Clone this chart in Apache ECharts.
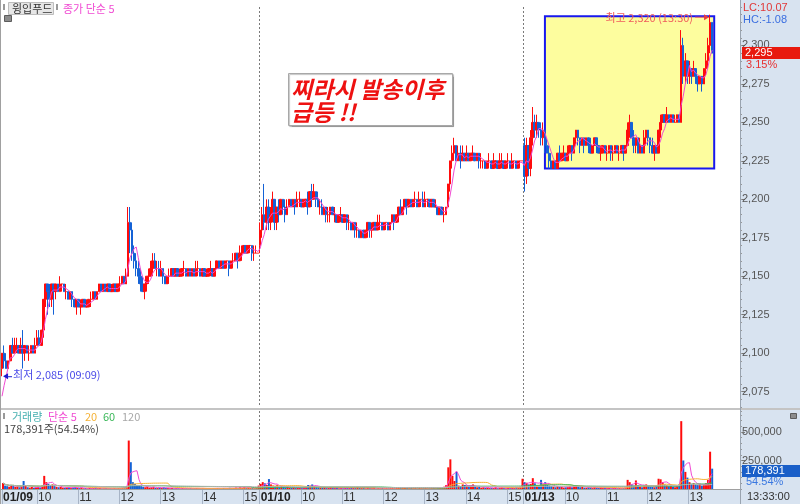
<!DOCTYPE html>
<html><head><meta charset="utf-8">
<script src="https://cdn.jsdelivr.net/npm/echarts@6.0.0/dist/echarts.min.js"></script>
<style>html,body{margin:0;padding:0;background:#fff}#c{width:800px;height:504px}</style>
</head><body><div id="c"></div>
<script>
// ---------------- DATA ----------------
const stockName = '윙입푸드';
const dayLabels = ['01/09', '01/10', '01/13'];
const dayFirstTime = ['09:09', '09:00', '09:00'];
const dayLastTime = ['15:30', '15:30', '13:33'];
const priorCloses = [2060, 2060, 2065, 2075];   // hidden bars before the visible window (for MA5)
const prevDayClose = 2225;
const priceTicks = [2075, 2100, 2125, 2150, 2175, 2200, 2225, 2250, 2275, 2300];
const volumeTicks = [250000, 500000];
const highlightBox = { fromIdx: 263, toIdx: 345, top: 2319, bottom: 2220 };

// 3-minute bars: [open, close, low, high]
const day1Bars = [
[2090,2100,2085,2100],[2100,2095,2090,2105],[2095,2090,2090,2100],[2090,2095,2090,2095],[2095,2105,2095,2105],[2105,2100,2100,2110],[2100,2105,2100,2110],[2105,2105,2100,2110],[2105,2100,2100,2105],[2100,2105,2100,2110],
[2105,2100,2090,2115],[2100,2105,2095,2105],[2105,2100,2100,2105],[2100,2100,2095,2105],[2100,2105,2100,2105],[2105,2100,2100,2105],[2100,2105,2100,2110],[2105,2110,2105,2115],[2110,2105,2105,2115],[2105,2115,2105,2115],
[2115,2135,2110,2135],[2135,2145,2130,2145],[2145,2140,2125,2145],[2140,2135,2130,2145],[2135,2145,2130,2145],[2145,2140,2125,2145],[2140,2145,2135,2145],[2145,2140,2140,2145],[2140,2145,2140,2150],[2145,2145,2140,2145],
[2145,2140,2140,2145],[2140,2140,2135,2145],[2140,2135,2135,2140],[2135,2140,2135,2140],[2140,2135,2130,2140],[2135,2130,2130,2135],[2130,2135,2125,2135],[2135,2130,2130,2135],[2130,2130,2125,2135],[2130,2135,2130,2135],
[2135,2130,2130,2135],[2130,2130,2130,2135],[2130,2135,2130,2135],[2135,2135,2130,2140],[2135,2140,2135,2140],[2140,2135,2135,2140],[2135,2140,2135,2140],[2140,2145,2140,2145],[2145,2140,2140,2145],[2140,2145,2140,2145],
[2145,2140,2140,2145],[2140,2145,2140,2145],[2145,2140,2140,2145],[2140,2140,2140,2145],[2140,2145,2140,2145],[2145,2140,2140,2145],[2140,2145,2140,2145],[2145,2145,2140,2150],[2145,2150,2145,2150],[2150,2145,2145,2150],
[2145,2150,2145,2155],[2150,2185,2150,2195],[2185,2180,2165,2195],[2180,2165,2160,2185],[2165,2160,2155,2170],[2160,2155,2150,2165],[2155,2150,2145,2160],[2150,2145,2140,2155],[2145,2140,2140,2150],[2140,2145,2135,2145],
[2145,2150,2140,2150],[2150,2150,2145,2155],[2150,2155,2150,2160],[2155,2160,2150,2165],[2160,2155,2155,2165],[2155,2155,2150,2160],[2155,2150,2150,2160],[2150,2155,2150,2160],[2155,2150,2145,2155],[2150,2145,2145,2150],
[2145,2150,2145,2150],[2150,2150,2145,2155],[2150,2155,2150,2155],[2155,2150,2150,2155],[2150,2155,2150,2155],[2155,2150,2150,2155],[2150,2150,2150,2155],[2150,2155,2150,2155],[2155,2155,2150,2160],[2155,2150,2150,2155],
[2150,2155,2150,2155],[2155,2150,2150,2155],[2150,2155,2150,2155],[2155,2150,2150,2155],[2150,2155,2150,2160],[2155,2155,2150,2160],[2155,2150,2150,2155],[2150,2155,2150,2155],[2155,2150,2150,2155],[2150,2150,2150,2155],
[2150,2155,2150,2155],[2155,2155,2150,2160],[2155,2150,2150,2155],[2150,2155,2150,2155],[2155,2160,2155,2160],[2160,2155,2155,2160],[2155,2160,2155,2160],[2160,2155,2155,2160],[2155,2160,2155,2160],[2160,2160,2155,2160],
[2160,2155,2150,2160],[2155,2160,2155,2160],[2160,2160,2155,2165],[2160,2165,2160,2165],[2165,2160,2155,2165],[2160,2165,2160,2170],[2165,2165,2160,2170],[2165,2170,2165,2170],[2170,2165,2165,2170],[2165,2170,2165,2170],
[2170,2170,2165,2170],[2170,2165,2160,2170],[2165,2165,2160,2170],[2165,2165,2165,2170],[2165,2165,2165,2165]
];
const day2Bars = [
[2170,2180,2165,2185],[2180,2190,2175,2195],[2190,2185,2180,2210],[2185,2195,2180,2200],[2195,2185,2180,2200],[2185,2190,2180,2195],[2190,2200,2185,2205],[2200,2185,2180,2200],[2185,2195,2180,2195],[2195,2190,2185,2200],
[2190,2200,2190,2200],[2200,2195,2190,2200],[2195,2190,2185,2200],[2190,2195,2190,2200],[2195,2200,2195,2200],[2200,2195,2195,2200],[2195,2200,2195,2200],[2200,2195,2190,2200],[2195,2200,2195,2205],[2200,2200,2195,2205],
[2200,2195,2195,2200],[2195,2200,2195,2200],[2200,2200,2195,2200],[2200,2195,2190,2205],[2195,2205,2195,2205],[2205,2200,2195,2210],[2200,2205,2200,2210],[2205,2200,2195,2205],[2200,2195,2195,2205],[2195,2195,2190,2200],
[2195,2190,2190,2200],[2190,2195,2190,2195],[2195,2190,2185,2195],[2190,2190,2185,2195],[2190,2195,2185,2195],[2195,2190,2190,2195],[2190,2190,2185,2195],[2190,2185,2185,2190],[2185,2190,2185,2190],[2190,2190,2185,2195],
[2190,2185,2185,2190],[2185,2190,2185,2190],[2190,2185,2180,2190],[2185,2185,2180,2190],[2185,2180,2180,2185],[2180,2185,2180,2185],[2185,2180,2175,2185],[2180,2180,2175,2185],[2180,2175,2175,2180],[2175,2180,2175,2180],
[2180,2175,2175,2180],[2175,2180,2175,2180],[2180,2185,2175,2185],[2185,2180,2175,2185],[2180,2180,2175,2185],[2180,2185,2180,2185],[2185,2180,2180,2185],[2180,2185,2180,2190],[2185,2185,2180,2190],[2185,2180,2180,2185],
[2180,2185,2180,2185],[2185,2185,2180,2185],[2185,2180,2180,2185],[2180,2185,2180,2185],[2185,2190,2185,2190],[2190,2185,2180,2190],[2185,2190,2185,2190],[2190,2195,2185,2195],[2195,2190,2190,2200],[2190,2195,2190,2195],
[2195,2200,2195,2200],[2200,2195,2190,2200],[2195,2200,2195,2200],[2200,2195,2195,2200],[2195,2200,2195,2200],[2200,2200,2195,2205],[2200,2195,2195,2200],[2195,2200,2195,2205],[2200,2200,2195,2200],[2200,2195,2195,2205],
[2195,2200,2195,2205],[2200,2200,2195,2200],[2200,2195,2195,2200],[2195,2200,2195,2200],[2200,2195,2195,2200],[2195,2195,2195,2200],[2195,2190,2190,2195],[2190,2195,2190,2195],[2195,2190,2190,2195],[2190,2190,2185,2195],
[2190,2195,2190,2195],[2195,2210,2195,2210],[2210,2225,2205,2225],[2225,2230,2220,2235],[2230,2235,2225,2240],[2235,2225,2225,2235],[2225,2230,2225,2235],[2230,2225,2220,2235],[2225,2230,2225,2235],[2230,2225,2225,2230],
[2225,2230,2225,2235],[2230,2225,2225,2230],[2225,2230,2225,2230],[2230,2230,2225,2235],[2230,2225,2225,2230],[2225,2230,2225,2230],[2230,2225,2220,2230],[2225,2225,2220,2230],[2225,2225,2220,2225],[2225,2220,2220,2225],
[2220,2225,2220,2225],[2225,2225,2220,2230],[2225,2220,2220,2225],[2220,2225,2220,2230],[2225,2225,2220,2225],[2225,2220,2220,2225],[2220,2225,2220,2230],[2225,2225,2220,2230],[2225,2220,2220,2225],[2220,2225,2220,2225],
[2225,2225,2220,2230],[2225,2220,2220,2225],[2220,2225,2220,2230],[2225,2225,2220,2225],[2225,2220,2220,2225],[2220,2225,2220,2225],[2225,2225,2220,2225],[2225,2225,2225,2225]
];
const day3Bars = [
[2235,2215,2205,2240],[2215,2235,2210,2240],[2235,2220,2215,2235],[2220,2240,2215,2245],[2240,2250,2235,2260],[2250,2245,2240,2255],[2245,2250,2240,2255],[2250,2245,2240,2250],[2245,2240,2235,2250],[2240,2245,2235,2250],
[2245,2235,2230,2245],[2235,2230,2230,2240],[2230,2225,2220,2235],[2225,2220,2220,2230],[2220,2225,2220,2225],[2225,2220,2220,2225],[2220,2230,2220,2230],[2230,2225,2225,2235],[2225,2230,2225,2230],[2230,2230,2225,2235],
[2230,2225,2225,2230],[2225,2230,2225,2235],[2230,2235,2230,2235],[2235,2230,2225,2235],[2230,2240,2230,2240],[2240,2245,2235,2245],[2245,2240,2235,2245],[2240,2235,2230,2240],[2235,2240,2235,2240],[2240,2235,2230,2240],
[2235,2240,2235,2240],[2240,2235,2230,2240],[2235,2230,2230,2240],[2230,2235,2230,2235],[2235,2240,2235,2240],[2240,2235,2230,2240],[2235,2230,2230,2235],[2230,2230,2225,2235],[2230,2235,2230,2235],[2235,2230,2230,2235],
[2230,2230,2225,2235],[2230,2235,2230,2235],[2235,2230,2225,2235],[2230,2230,2225,2235],[2230,2235,2230,2235],[2235,2230,2230,2235],[2230,2230,2225,2235],[2230,2235,2230,2235],[2235,2230,2225,2235],[2230,2235,2230,2235],
[2235,2245,2235,2250],[2245,2250,2240,2255],[2250,2240,2240,2250],[2240,2235,2230,2245],[2235,2240,2230,2240],[2240,2230,2230,2240],[2230,2235,2230,2240],[2235,2230,2230,2235],[2230,2240,2230,2245],[2240,2245,2235,2245],
[2245,2240,2235,2245],[2240,2235,2230,2240],[2235,2230,2230,2240],[2230,2235,2225,2235],[2235,2230,2230,2235],[2230,2245,2230,2245],[2245,2250,2240,2255],[2250,2255,2250,2255],[2255,2250,2250,2255],[2250,2255,2250,2260],
[2255,2250,2250,2255],[2250,2255,2250,2255],[2255,2250,2250,2255],[2250,2250,2250,2255],[2250,2255,2250,2255],[2255,2250,2250,2255],[2250,2300,2250,2310],[2300,2280,2275,2305],[2280,2290,2275,2295],[2290,2280,2275,2290],
[2280,2285,2275,2290],[2285,2280,2275,2285],[2280,2285,2280,2290],[2285,2280,2275,2285],[2280,2275,2270,2280],[2275,2280,2275,2280],[2280,2275,2270,2280],[2275,2285,2275,2285],[2285,2290,2280,2295],[2290,2300,2285,2305],
[2300,2315,2295,2320],[2315,2295,2295,2315]
];
const day1Vol = [
52000,30000,25000,20000,35000,30000,18000,22000,15000,20000,
70000,25000,15000,12000,18000,10000,15000,22000,12000,30000,
115000,60000,45000,35000,40000,25000,20000,15000,18000,12000,
10000,12000,15000,8000,12000,18000,10000,8000,12000,6000,
8000,5000,10000,6000,8000,12000,7000,9000,5000,6000,
8000,5000,6000,4000,7000,5000,8000,6000,10000,12000,
20000,425000,235000,60000,45000,35000,30000,25000,20000,15000,
18000,12000,15000,20000,10000,8000,12000,9000,15000,10000,
8000,6000,9000,5000,7000,6000,4000,8000,5000,6000,
5000,7000,4000,6000,8000,5000,4000,6000,3000,5000,
6000,4000,7000,5000,8000,6000,4000,9000,5000,6000,
10000,6000,8000,12000,7000,15000,9000,18000,10000,12000,
8000,10000,6000,12000,30000
];
const day2Vol = [
45000,60000,50000,35000,87000,40000,30000,25000,35000,20000,
25000,18000,15000,20000,12000,10000,15000,8000,12000,10000,
8000,10000,12000,35000,30000,40000,25000,18000,15000,12000,
10000,12000,8000,9000,15000,10000,8000,12000,6000,8000,
7000,9000,12000,8000,15000,10000,12000,18000,9000,8000,
10000,6000,12000,8000,7000,10000,5000,8000,6000,9000,
5000,7000,6000,8000,10000,7000,12000,15000,10000,8000,
12000,9000,7000,10000,6000,8000,5000,9000,6000,7000,
8000,5000,6000,7000,9000,5000,12000,15000,10000,20000,
35000,190000,260000,115000,70000,150000,30000,25000,40000,35000,
30000,20000,25000,40000,18000,15000,20000,12000,15000,10000,
12000,8000,10000,9000,15000,7000,10000,12000,8000,6000,
10000,8000,12000,9000,15000,12000,20000,90000
];
const day3Vol = [
60000,55000,40000,45000,95000,50000,35000,30000,80000,40000,
60000,35000,30000,25000,20000,15000,25000,18000,20000,12000,
15000,20000,25000,15000,30000,35000,20000,15000,18000,12000,
10000,15000,12000,8000,15000,10000,9000,12000,8000,10000,
7000,9000,6000,8000,10000,7000,9000,6000,8000,12000,
80000,60000,40000,30000,75000,35000,20000,15000,30000,40000,
25000,20000,18000,15000,30000,90000,85000,60000,40000,35000,
25000,30000,20000,15000,25000,40000,595000,250000,150000,100000,
60000,45000,50000,40000,35000,45000,30000,40000,50000,80000,
327080,178391
];

// ---------------- BUILD ----------------
const RED = '#ff0c0c', BLUE = '#1462d6', PINK = '#f04ad2';
const KFONT = '"Noto Sans CJK KR", "Liberation Sans", sans-serif';
const NFONT = '"Liberation Sans", "DejaVu Sans", sans-serif';

const bars = day1Bars.concat(day2Bars, day3Bars);
const vols = day1Vol.concat(day2Vol, day3Vol);
const nData = bars.length;

function toMin(t){const p=t.split(':').map(Number);return p[0]*60+p[1];}
function fmtT(m){return String(Math.floor(m/60)).padStart(2,'0')+':'+String(m%60).padStart(2,'0');}
const categories = [], catTime = [], catDay = [], dayStartIdx = [];
dayLabels.forEach((d, di) => {
  dayStartIdx.push(categories.length);
  const end = toMin(dayLastTime[di]);
  for (let t = toMin(dayFirstTime[di]); t <= Math.min(end, toMin('15:18')); t += 3) {
    categories.push(d + ' ' + fmtT(t)); catTime.push(fmtT(t)); catDay.push(d);
  }
  if (end >= toMin('15:30')) { categories.push(d + ' 15:30'); catTime.push('15:30'); catDay.push(d); }
});
for (let i = 0; i < 13; i++) { categories.push('pad' + i); catTime.push(''); catDay.push(''); }

function sma(arr, n, seed) {
  const all = (seed || []).concat(arr), off = (seed || []).length;
  return arr.map((_, i) => {
    const j = i + off, s = Math.max(0, j - n + 1);
    let sum = 0; for (let k = s; k <= j; k++) sum += all[k];
    return +(sum / (j - s + 1)).toFixed(2);
  });
}
const closes = bars.map(b => b[1]);
const ma5 = sma(closes, 5, priorCloses);
const isUp = bars.map((b, i) => b[1] > b[0] ? true : b[1] < b[0] ? false : (i > 0 ? closes[i-1] <= b[1] : true));
const volData = vols.map((v, i) => ({ value: v, itemStyle: { color: isUp[i] ? RED : BLUE } }));

const isDayStart = i => dayStartIdx.indexOf(i) >= 0;
const isLabelIdx = i => i < nData && (isDayStart(i) || /:00$/.test(catTime[i]));
const isDayBoundary = i => isDayStart(i) && i > 0;

let highIdx = 0, lowIdx = 0;
bars.forEach((b, i) => { if (b[3] > bars[highIdx][3]) highIdx = i; if (b[2] < bars[lowIdx][2]) lowIdx = i; });
const highVal = bars[highIdx][3], lowVal = bars[lowIdx][2];
const lastClose = closes[nData - 1], lastVol = vols[nData - 1], prevVol = vols[nData - 2];
const fmtN = v => v.toLocaleString('en-US');

const sharedX = {
  type: 'category', data: categories, boundaryGap: true,
  axisLine: { show: false }, axisTick: { show: false }, axisLabel: { show: false },
  splitLine: { show: true, interval: (i) => isDayBoundary(i), lineStyle: { color: '#7a7a7a', type: [2, 2], width: 1 } }
};

const option = {
  backgroundColor: '#ffffff',
  animation: false,
  grid: [
    { left: 1, top: 7, width: 739, height: 400 },
    { left: 1, top: 411, width: 739, height: 78 }
  ],
  xAxis: [
    Object.assign({ gridIndex: 0 }, sharedX),
    Object.assign({}, sharedX, {
      gridIndex: 1,
      axisLine: { show: true, lineStyle: { color: '#9a9a9a' } },
      axisTick: { show: true, interval: (i) => isLabelIdx(i), length: 15, lineStyle: { color: '#a7b4c6' } },
      axisLabel: {
        show: true, interval: (i) => isLabelIdx(i), align: 'left', verticalAlign: 'top', margin: 3,
        fontFamily: NFONT, fontSize: 12, color: '#333',
        formatter: (v, i) => isDayStart(i) ? '{d|' + catDay[i] + '}' : String(parseInt(catTime[i], 10)),
        rich: { d: { fontWeight: 'bold', fontSize: 12, color: '#222', fontFamily: NFONT } }
      }
    })
  ],
  yAxis: [
    { gridIndex: 0, type: 'value', position: 'right', min: 2065, max: 2325, scale: true,
      axisLine: { show: true, lineStyle: { color: '#8a8a8a' } },
      axisTick: { show: true, customValues: priceTicks, length: 5, lineStyle: { color: '#777' } },
      axisLabel: { show: true, customValues: priceTicks, margin: 2, fontSize: 11, fontFamily: NFONT, color: '#555', formatter: v => fmtN(v) },
      splitLine: { show: false } },
    { gridIndex: 0, type: 'value', position: 'right', min: 2065, max: 2325, interval: 5,
      axisLine: { show: false }, axisTick: { show: true, length: 2, lineStyle: { color: '#999' } },
      axisLabel: { show: false }, splitLine: { show: false } },
    { gridIndex: 1, type: 'value', position: 'right', min: 0, max: 684000,
      axisLine: { show: true, lineStyle: { color: '#8a8a8a' } },
      axisTick: { show: true, customValues: volumeTicks, length: 5, lineStyle: { color: '#777' } },
      axisLabel: { show: true, customValues: volumeTicks, margin: 2, fontSize: 11, fontFamily: NFONT, color: '#555', formatter: v => fmtN(v) },
      splitLine: { show: false } },
    { gridIndex: 1, type: 'value', position: 'right', min: 0, max: 684000, interval: 50000,
      axisLine: { show: false }, axisTick: { show: true, length: 2, lineStyle: { color: '#999' } },
      axisLabel: { show: false }, splitLine: { show: false } }
  ],
  series: [
    { name: 'box', type: 'line', xAxisIndex: 0, yAxisIndex: 0, data: closes, z: 1, silent: true,
      showSymbol: false, symbol: 'none', lineStyle: { opacity: 0 },
      markArea: { silent: true, itemStyle: { color: '#fdfd9e', borderColor: '#1818ee', borderWidth: 2 },
        data: [[{ xAxis: categories[highlightBox.fromIdx], yAxis: highlightBox.top },
                { xAxis: categories[highlightBox.toIdx], yAxis: highlightBox.bottom }]] } },
    { name: 'price', type: 'candlestick', xAxisIndex: 0, yAxisIndex: 0, z: 2,
      data: bars, barWidth: 2, barMinWidth: 2,
      itemStyle: { color: RED, color0: BLUE, borderColor: RED, borderColor0: BLUE, borderWidth: 1 } },
    { name: 'MA5', type: 'line', xAxisIndex: 0, yAxisIndex: 0, z: 3, data: ma5, showSymbol: false, symbol: 'none',
      lineStyle: { color: PINK, width: 1 } },
    { name: 'vol', type: 'bar', xAxisIndex: 1, yAxisIndex: 2, data: volData, barWidth: 2, z: 2 },
    { name: 'vma5', type: 'line', xAxisIndex: 1, yAxisIndex: 2, data: sma(vols, 5), showSymbol: false, symbol: 'none', z: 3, lineStyle: { color: PINK, width: 1 } },
    { name: 'vma20', type: 'line', xAxisIndex: 1, yAxisIndex: 2, data: sma(vols, 20), showSymbol: false, symbol: 'none', z: 3, lineStyle: { color: '#f5b236', width: 1 } },
    { name: 'vma60', type: 'line', xAxisIndex: 1, yAxisIndex: 2, data: sma(vols, 60), showSymbol: false, symbol: 'none', z: 3, lineStyle: { color: '#3cb85a', width: 1 } },
    { name: 'vma120', type: 'line', xAxisIndex: 1, yAxisIndex: 2, data: sma(vols, 120), showSymbol: false, symbol: 'none', z: 3, lineStyle: { color: '#b4b4b4', width: 1 } }
  ]
};

const chart = echarts.init(document.getElementById('c'), null, { renderer: 'canvas' });
chart.setOption(option);

// ---------------- ANNOTATIONS ----------------
const T = (x, y, text, fill, extra) => Object.assign({ type: 'text', x, y, z: 50,
  style: Object.assign({ text, fill, fontSize: 11, fontFamily: KFONT, verticalAlign: 'middle' }, extra || {}) });
const hp = chart.convertToPixel({ gridIndex: 0 }, [highIdx, highVal]);
const lp = chart.convertToPixel({ gridIndex: 0 }, [lowIdx, lowVal]);
const yLast = chart.convertToPixel({ yAxisIndex: 0 }, lastClose);
const yVol = chart.convertToPixel({ yAxisIndex: 2 }, lastVol);
const chg = ((lastClose - prevDayClose) / prevDayClose * 100).toFixed(2);
const lc = ((lastClose / lowVal - 1) * 100).toFixed(2);
const hc = ((lastClose / highVal - 1) * 100).toFixed(2);
const volPct = (lastVol / prevVol * 100).toFixed(2);

const graphics = [
  { type: 'rect', z: -10, shape: { x: 740, y: 0, width: 60, height: 504 }, style: { fill: '#d8e3f0' } },
  { type: 'rect', z: -10, shape: { x: 0, y: 490, width: 800, height: 14 }, style: { fill: '#d8e3f0' } },
  { type: 'rect', z: 40, shape: { x: 0, y: 408, width: 800, height: 2 }, style: { fill: '#c4c4c4' } },
  { type: 'line', z: 40, shape: { x1: 740.5, y1: 0, x2: 740.5, y2: 504 }, style: { stroke: '#9aa4b0', lineWidth: 1 } },
  { type: 'line', z: 40, shape: { x1: 0.5, y1: 0, x2: 0.5, y2: 504 }, style: { stroke: '#a0a0a0', lineWidth: 1 } },
  { type: 'line', z: 40, shape: { x1: 0, y1: 489.5, x2: 740, y2: 489.5 }, style: { stroke: '#a0a0a0', lineWidth: 1 } },
  // header
  { type: 'rect', z: 50, shape: { x: 3, y: 4, width: 2, height: 6 }, style: { fill: '#999' } },
  { type: 'rect', z: 50, shape: { x: 8.5, y: 2.5, width: 45, height: 12 }, style: { fill: '#e6e6e6', stroke: '#bdbdbd', lineWidth: 1 } },
  T(12, 9, stockName, '#333'),
  { type: 'rect', z: 50, shape: { x: 56, y: 4, width: 2, height: 6 }, style: { fill: '#999' } },
  T(63, 9, '종가 단순 5', PINK),
  { type: 'rect', z: 50, shape: { x: 4.5, y: 15.5, width: 7, height: 6 }, style: { fill: '#8c8c8c', stroke: '#5c5c5c', lineWidth: 1 } },
  // annotation box
  { type: 'rect', z: 50, shape: { x: 288.5, y: 73.5, width: 164, height: 52 }, style: { fill: '#ffffff', stroke: '#a8a8a8', lineWidth: 1, shadowColor: 'rgba(0,0,0,0.25)', shadowOffsetX: 1, shadowOffsetY: 1, shadowBlur: 1 } },
  T(291, 89, '찌라시 발송이후', '#ee1111', { fontSize: 23, fontWeight: 'bold', fontStyle: 'italic' }),
  T(291, 112, '급등 !!', '#ee1111', { fontSize: 23, fontWeight: 'bold', fontStyle: 'italic' }),
  // high annotation
  T(hp[0] - 17, hp[1] + 3, '최고 ' + fmtN(highVal) + ' (' + catTime[highIdx] + ')', '#f05c5c', { align: 'right' }),
  { type: 'line', z: 50, shape: { x1: hp[0] - 15, y1: hp[1] + 2.5, x2: hp[0] - 5, y2: hp[1] + 2.5 }, style: { stroke: '#f05c5c', lineWidth: 1 } },
  { type: 'polygon', z: 50, shape: { points: [[hp[0] - 1, hp[1] + 2.5], [hp[0] - 6, hp[1] - 0.5], [hp[0] - 6, hp[1] + 5.5]] }, style: { fill: '#e83c3c' } },
  // low annotation
  { type: 'polygon', z: 50, shape: { points: [[lp[0] + 1, lp[1]], [lp[0] + 6, lp[1] - 3], [lp[0] + 6, lp[1] + 3]] }, style: { fill: '#1a1ad0' } },
  { type: 'line', z: 50, shape: { x1: lp[0] + 6, y1: lp[1] + 0.5, x2: lp[0] + 10, y2: lp[1] + 0.5 }, style: { stroke: '#1a1ad0', lineWidth: 1 } },
  T(lp[0] + 11, lp[1] - 1, '최저 ' + fmtN(lowVal) + ' (' + catTime[lowIdx] + ')', '#4a4ae8'),
  // right panel texts
  T(743, 8, 'LC:' + lc, '#e03838', { fontFamily: NFONT }),
  T(743, 20, 'HC:' + hc, '#3a6ee0', { fontFamily: NFONT }),
  { type: 'rect', z: 50, shape: { x: 742, y: Math.round(yLast) - 6, width: 58, height: 12 }, style: { fill: '#e8190e' } },
  T(745, Math.round(yLast), fmtN(lastClose), '#ffffff', { fontFamily: NFONT }),
  T(746, Math.round(yLast) + 12, chg + '%', '#e83030', { fontFamily: NFONT }),
  { type: 'rect', z: 50, shape: { x: 742, y: Math.round(yVol) - 4, width: 58, height: 12 }, style: { fill: '#1a5fc8' } },
  T(745, Math.round(yVol) + 2, fmtN(lastVol), '#ffffff', { fontFamily: NFONT }),
  T(746, Math.round(yVol) + 13, volPct + '%', '#3a78e0', { fontFamily: NFONT }),
  { type: 'rect', z: 50, shape: { x: 790.5, y: 413.5, width: 6, height: 5 }, style: { fill: '#8c8c8c', stroke: '#5c5c5c', lineWidth: 1 } },
  T(747, 497, catTime[nData - 1] + ':00', '#333', { fontFamily: NFONT }),
  // volume legend
  { type: 'rect', z: 50, shape: { x: 3, y: 413, width: 2, height: 6 }, style: { fill: '#999' } },
  T(12, 417, '거래량', '#46b0b0'),
  T(48, 417, '단순 5', PINK),
  T(85, 417, '20', '#f5b236'),
  T(103, 417, '60', '#3cb85a'),
  T(122, 417, '120', '#a8a8a8'),
  T(4, 429, fmtN(lastVol) + '주(' + volPct + '%)', '#444')
];
chart.setOption({ graphic: graphics });
</script></body></html>
